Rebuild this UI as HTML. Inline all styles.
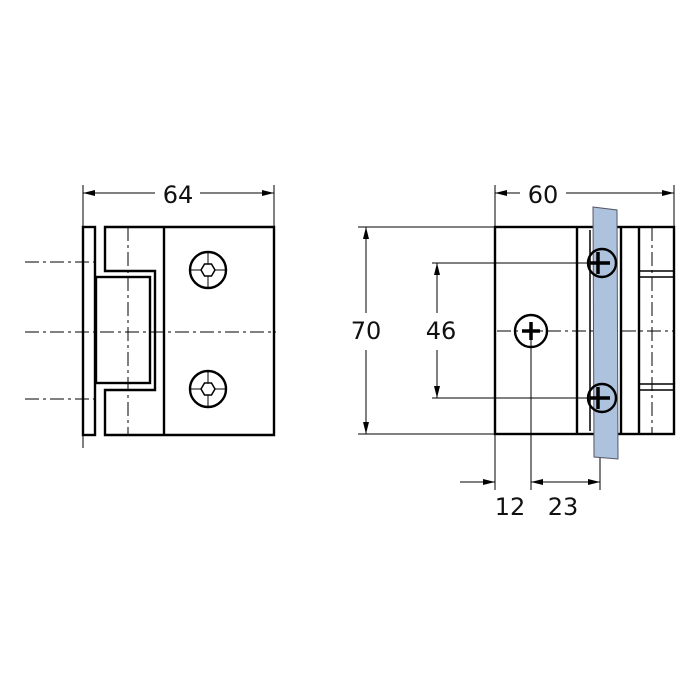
<!DOCTYPE html><html><head><style>body{margin:0;background:#fff}svg{display:block}text{font-family:"DejaVu Sans","Liberation Sans",sans-serif;font-size:24px;fill:#111;text-anchor:middle}</style></head><body>
<svg width="700" height="700" viewBox="0 0 700 700" xmlns="http://www.w3.org/2000/svg">
<defs><marker id="a" viewBox="0 0 12 6" refX="12" refY="3" markerWidth="12" markerHeight="6" orient="auto-start-reverse" markerUnits="userSpaceOnUse"><path d="M0,0L12,3L0,6z" fill="#000"/></marker></defs>
<g fill="none" stroke="#000" stroke-width="2.4">
<rect x="83" y="227" width="12" height="208"/>
<path d="M105,227H274V435H105V390H155V271H105Z"/>
<line x1="164" y1="227" x2="164" y2="435"/>
<rect x="96" y="277" width="54" height="106"/>
<circle cx="208" cy="270" r="18"/><circle cx="208" cy="389" r="18"/>
<polygon points="201,270 204.5,264 211.5,264 215,270 211.5,276 204.5,276" stroke-width="1.5"/>
<polygon points="201,389 204.5,383 211.5,383 215,389 211.5,395 204.5,395" stroke-width="1.5"/>
</g>
<g stroke="#000" stroke-width="1" fill="none">
<line x1="190" y1="270" x2="201" y2="270"/><line x1="215" y1="270" x2="226" y2="270"/><line x1="208" y1="252" x2="208" y2="264"/><line x1="208" y1="276" x2="208" y2="288"/>
<line x1="190" y1="389" x2="201" y2="389"/><line x1="215" y1="389" x2="226" y2="389"/><line x1="208" y1="371" x2="208" y2="383"/><line x1="208" y1="395" x2="208" y2="407"/>
<g stroke-dasharray="14,4,3,4">
<line x1="25" y1="262" x2="95" y2="262"/><line x1="25" y1="399" x2="95" y2="399"/>
<line x1="25" y1="332" x2="276" y2="332"/><line x1="128" y1="227" x2="128" y2="435"/>
<line x1="497" y1="331" x2="674" y2="331"/><line x1="652" y1="227" x2="652" y2="434"/>
</g>
<line x1="83" y1="185" x2="83" y2="448"/><line x1="274" y1="185" x2="274" y2="227"/>
<line x1="83" y1="193" x2="155" y2="193" marker-start="url(#a)"/><line x1="200" y1="193" x2="274" y2="193" marker-end="url(#a)"/>
<line x1="495" y1="185" x2="495" y2="227"/><line x1="674" y1="185" x2="674" y2="227"/>
<line x1="495" y1="193" x2="520" y2="193" marker-start="url(#a)"/><line x1="566" y1="193" x2="674" y2="193" marker-end="url(#a)"/>
<line x1="358" y1="227" x2="495" y2="227"/><line x1="358" y1="434" x2="495" y2="434"/>
<line x1="366" y1="227" x2="366" y2="313" marker-start="url(#a)"/><line x1="366" y1="350" x2="366" y2="434" marker-end="url(#a)"/>
<line x1="432" y1="263" x2="600" y2="263"/><line x1="432" y1="398" x2="600" y2="398"/>
<line x1="437" y1="263" x2="437" y2="313" marker-start="url(#a)"/><line x1="437" y1="350" x2="437" y2="398" marker-end="url(#a)"/>
<line x1="495" y1="434" x2="495" y2="490"/><line x1="531" y1="331" x2="531" y2="490"/><line x1="600" y1="398" x2="600" y2="490"/>
<line x1="460" y1="482" x2="495" y2="482" marker-end="url(#a)"/>
<line x1="531" y1="482" x2="600" y2="482" marker-start="url(#a)" marker-end="url(#a)"/>
</g>
<g fill="none" stroke="#000" stroke-width="2.4">
<rect x="495" y="227" width="179" height="207"/>
<line x1="577" y1="227" x2="577" y2="434"/>
<line x1="621" y1="227" x2="621" y2="434"/><line x1="639" y1="227" x2="639" y2="434"/>
<path d="M639,271H674M639,277H674M639,384H674M639,390H674" stroke-width="1.5"/>
<line x1="590" y1="230" x2="590" y2="431" stroke-width="1.5"/>
<circle cx="531" cy="331" r="16"/>
</g>
<polygon points="593,207 617,210 618,459 594,457" fill="#adc2dd" stroke="#556" stroke-width="1"/>
<g fill="none" stroke="#000" stroke-width="2.4">
<circle cx="602" cy="263" r="14"/><circle cx="602" cy="398" r="14"/>
<path d="M598,252V274M590,263H610M598,387V409M590,398H610" stroke-width="3.5"/>
<path d="M531,322V340M522,331H540" stroke-width="3.5"/>
</g>
<text x="178" y="203">64</text><text x="543" y="203">60</text>
<text x="366" y="339">70</text><text x="441" y="339">46</text>
<text x="510" y="515">12</text><text x="563" y="515">23</text>
</svg></body></html>
